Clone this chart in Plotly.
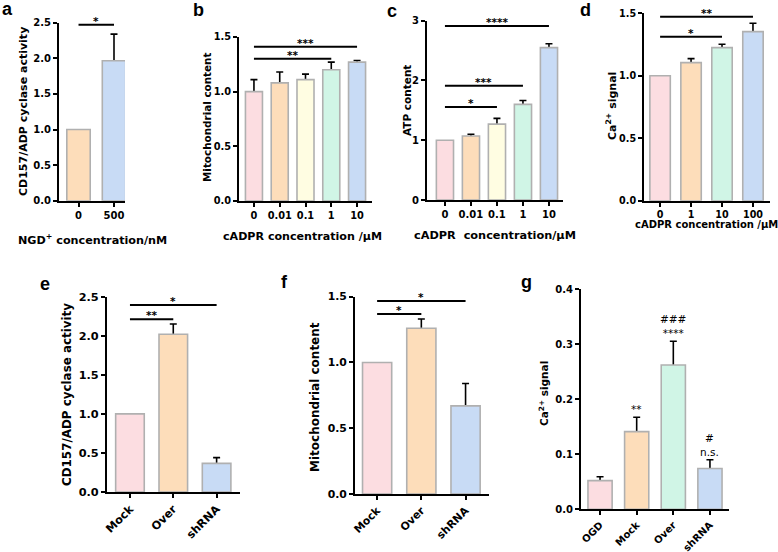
import plotly.graph_objects as go

# ---------------- data ----------------
a_cats = ["0", "500"]
a_vals = [1.0, 1.965]
a_err = [0.0, 0.375]

b_cats = ["0", "0.01", "0.1", "1", "10"]
b_vals = [1.0, 1.08, 1.11, 1.20, 1.27]
b_err = [0.11, 0.10, 0.05, 0.07, 0.015]

c_cats = ["0", "0.01", "0.1", "1", "10"]
c_vals = [1.0, 1.07, 1.27, 1.60, 2.55]
c_err = [0.0, 0.03, 0.095, 0.065, 0.065]

d_cats = ["0", "1", "10", "100"]
d_vals = [1.0, 1.105, 1.225, 1.353]
d_err = [0.0, 0.032, 0.027, 0.067]

e_cats = ["Mock", "Over", "shRNA"]
e_vals = [1.0, 2.02, 0.367]
e_err = [0.0, 0.13, 0.073]

f_cats = ["Mock", "Over", "shRNA"]
f_vals = [1.0, 1.26, 0.67]
f_err = [0.0, 0.07, 0.17]

g_cats = ["OGD", "Mock", "Over", "shRNA"]
g_vals = [0.052, 0.141, 0.262, 0.074]
g_err = [0.007, 0.026, 0.043, 0.016]

# significance brackets: (from index, to index, level, label)
a_sig = [(0, 1, 2.47, "*")]
b_sig = [(0, 4, 1.41, "***"), (0, 3, 1.30, "**")]
c_sig = [(0, 4, 2.91, "****"), (0, 3, 1.91, "***"), (0, 2, 1.556, "*")]
d_sig = [(0, 3, 1.473, "**"), (0, 2, 1.313, "*")]
e_sig = [(0, 2, 2.394, "*"), (0, 1, 2.21, "**")]
f_sig = [(0, 2, 1.468, "*"), (0, 1, 1.369, "*")]
# per-bar labels in g (index, lines from top to bottom)
g_marks = [(1, ["**"]), (2, ["###", "****"]), (3, ["#", "n.s."])]

# ---------------- style ----------------
PINK, ORANGE, YELLOW, GREEN, BLUE = "#FCDDE1", "#FDDDBA", "#FFFDE2", "#D0F5E6", "#C8DBF5"
W, H = 778, 552
FONT = "DejaVu Sans, Arial, sans-serif"

panels = [
    dict(cats=a_cats, vals=a_vals, err=a_err, sig=a_sig, colors=[ORANGE, BLUE],
         px=(59, 125), py=(22.7, 200.7), xr=[-0.55, 1.31], yr=[0, 2.5], dt=0.5, fmt=".1f",
         tsize=10, angle=0,
         ytitle="CD157/ADP cyclase activity", ytpos=(23, 112), ytsize=11,
         xtitle="NGD<sup>+</sup> concentration/nM", xtpos=(92, 239), xtsize=11.2,
         label="a", lpos=(7, 9)),
    dict(cats=b_cats, vals=b_vals, err=b_err, sig=b_sig, colors=[PINK, ORANGE, YELLOW, GREEN, BLUE],
         px=(239, 372), py=(37, 201), xr=[-0.58, 4.58], yr=[0, 1.5], dt=0.5, fmt=".1f",
         tsize=9.8, angle=0,
         ytitle="Mitochondrial content", ytpos=(207, 117), ytsize=10.4,
         xtitle="cADPR concentration /μM", xtpos=(302, 236), xtsize=11.1,
         label="b", lpos=(198, 10)),
    dict(cats=c_cats, vals=c_vals, err=c_err, sig=c_sig, colors=[PINK, ORANGE, YELLOW, GREEN, BLUE],
         px=(427, 563), py=(20.7, 200), xr=[-0.69, 4.54], yr=[0, 3], dt=1, fmt=".0f",
         tsize=10, angle=0,
         ytitle="ATP content", ytpos=(407, 101), ytsize=10.5,
         xtitle="cADPR  concentration/μM", xtpos=(495, 235), xtsize=11.3,
         label="c", lpos=(392, 11)),
    dict(cats=d_cats, vals=d_vals, err=d_err, sig=d_sig, colors=[PINK, ORANGE, GREEN, BLUE],
         px=(644, 770), py=(13.3, 200.7), xr=[-0.52, 3.55], yr=[0, 1.5], dt=0.5, fmt=".1f",
         tsize=9.6, angle=0,
         ytitle="Ca<sup>2+</sup> signal", ytpos=(612, 106), ytsize=11,
         xtitle="cADPR concentration /μM", xtpos=(706, 224), xtsize=10,
         label="d", lpos=(585, 10)),
    dict(cats=e_cats, vals=e_vals, err=e_err, sig=e_sig, colors=[PINK, ORANGE, BLUE],
         px=(107, 240), py=(296.7, 492), xr=[-0.53, 2.54], yr=[0, 2.5], dt=0.5, fmt=".1f",
         tsize=11.3, angle=-45,
         ytitle="CD157/ADP cyclase activity", ytpos=(67, 395), ytsize=11.9,
         xtitle=None, label="e", lpos=(45, 284)),
    dict(cats=f_cats, vals=f_vals, err=f_err, sig=f_sig, colors=[PINK, ORANGE, BLUE],
         px=(355, 489), py=(296.7, 494), xr=[-0.50, 2.53], yr=[0, 1.5], dt=0.5, fmt=".1f",
         tsize=10.8, angle=-45,
         ytitle="Mitochondrial content", ytpos=(315, 397), ytsize=12,
         xtitle=None, label="f", lpos=(284, 282)),
    dict(cats=g_cats, vals=g_vals, err=g_err, sig=[], colors=[PINK, ORANGE, GREEN, BLUE],
         px=(581, 729), py=(289, 509.3), xr=[-0.52, 3.52], yr=[0, 0.4], dt=0.1, fmt=".1f",
         tsize=10, angle=-45,
         ytitle="Ca<sup>2+</sup> signal", ytpos=(543, 394), ytsize=10.5,
         xtitle=None, label="g", lpos=(526, 282)),
]

fig = go.Figure()
shapes, annotations = [], []
BW = 0.66

for k, p in enumerate(panels):
    n = k + 1
    xa = "x" if n == 1 else f"x{n}"
    ya = "y" if n == 1 else f"y{n}"
    idx = list(range(len(p["cats"])))
    # error bars (symmetric; lower half hidden under the opaque bar drawn afterwards)
    eidx = [i for i in idx if p["err"][i] > 0]
    fig.add_trace(go.Bar(
        x=eidx, y=[p["vals"][i] for i in eidx], width=BW, xaxis=xa, yaxis=ya,
        marker=dict(color="rgba(0,0,0,0)", line=dict(width=0)),
        error_y=dict(type="data", array=[p["err"][i] for i in eidx], visible=True,
                     color="black", thickness=1.6, width=3.5),
        showlegend=False, hoverinfo="skip"))
    fig.add_trace(go.Bar(
        x=idx, y=p["vals"], width=BW, xaxis=xa, yaxis=ya,
        marker=dict(color=p["colors"], line=dict(color="#B0B0B0", width=1.6)),
        showlegend=False))

    axis_common = dict(showline=True, linewidth=2, linecolor="black", ticks="outside",
                       ticklen=4, tickwidth=2, tickcolor="black", showgrid=False,
                       zeroline=False, fixedrange=True, automargin=False)
    xkey = "xaxis" if n == 1 else f"xaxis{n}"
    ykey = "yaxis" if n == 1 else f"yaxis{n}"
    fig.update_layout({
        xkey: dict(axis_common, domain=[p["px"][0] / W, p["px"][1] / W], range=p["xr"],
                   anchor=ya, tickmode="array", tickvals=idx, ticktext=p["cats"],
                   tickangle=p["angle"],
                   tickfont=dict(family=FONT, size=p["tsize"], color="black", weight="bold")),
        ykey: dict(axis_common, domain=[1 - p["py"][1] / H, 1 - p["py"][0] / H], range=p["yr"],
                   anchor=xa, tickmode="linear", dtick=p["dt"], tick0=0, tickformat=p["fmt"],
                   tickfont=dict(family=FONT, size=p["tsize"], color="black", weight="bold")),
    })

    for (i0, i1, lvl, lab) in p["sig"]:
        shapes.append(dict(type="line", xref=xa, yref=ya, x0=i0, x1=i1, y0=lvl, y1=lvl,
                           line=dict(color="black", width=2)))
        annotations.append(dict(xref=xa, yref=ya, x=(i0 + i1) / 2, y=lvl, text=lab,
                                showarrow=False, yanchor="bottom", yshift=-4,
                                font=dict(family=FONT, size=10.5, color="black", weight="bold")))

    annotations.append(dict(xref="paper", yref="paper", x=p["ytpos"][0] / W, y=1 - p["ytpos"][1] / H,
                            text=p["ytitle"], textangle=-90, showarrow=False,
                            xanchor="center", yanchor="middle",
                            font=dict(family=FONT, size=p["ytsize"], color="black", weight="bold")))
    if p["xtitle"]:
        annotations.append(dict(xref="paper", yref="paper", x=p["xtpos"][0] / W, y=1 - p["xtpos"][1] / H,
                                text=p["xtitle"], showarrow=False, xanchor="center", yanchor="middle",
                                font=dict(family=FONT, size=p["xtsize"], color="black", weight="bold")))
    annotations.append(dict(xref="paper", yref="paper", x=p["lpos"][0] / W, y=1 - p["lpos"][1] / H,
                            text=p["label"], showarrow=False, xanchor="center", yanchor="middle",
                            font=dict(family="Liberation Sans, Arial, sans-serif", size=18,
                                      color="black", weight="bold")))

# per-bar marks in panel g
for (i, lines) in g_marks:
    top = g_vals[i] + g_err[i]
    annotations.append(dict(xref="x7", yref="y7", x=i, y=top, text="<br>".join(lines),
                            showarrow=False, yanchor="bottom", yshift=0,
                            font=dict(family=FONT, size=10.5, color="black")))

fig.update_layout(
    template="none",
    width=W, height=H, margin=dict(l=0, r=0, t=0, b=0, autoexpand=False),
    paper_bgcolor="white", plot_bgcolor="white",
    barmode="overlay", showlegend=False,
    shapes=shapes, annotations=annotations,
    font=dict(family=FONT, color="black"),
)

fig.write_html("out.html", include_plotlyjs=True,
               config={"displayModeBar": False, "staticPlot": True},
               post_script="document.body.style.margin='0';document.body.style.padding='0';"
                           "document.documentElement.style.overflow='hidden';")
